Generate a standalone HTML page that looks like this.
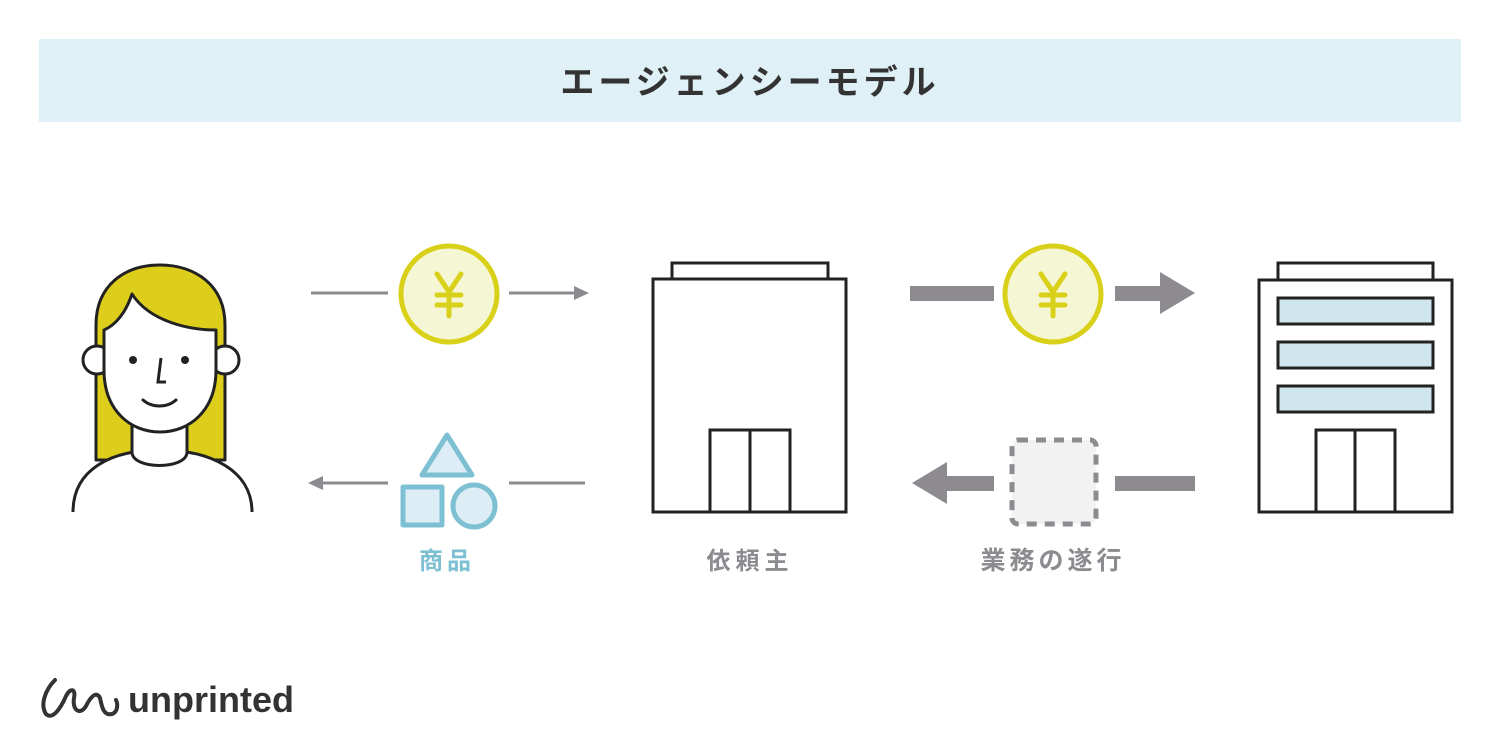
<!DOCTYPE html>
<html><head><meta charset="utf-8"><style>
html,body{margin:0;padding:0;background:#fff;}
svg{display:block;}
text{font-family:"Liberation Sans","Noto Sans CJK JP",sans-serif;}
</style></head><body>
<svg width="1500" height="750" viewBox="0 0 1500 750" xmlns="http://www.w3.org/2000/svg">
<rect x="39" y="39" width="1422" height="83" fill="#dff0f7"/>
<text x="750" y="94" text-anchor="middle" font-size="34" font-weight="bold" fill="#333" letter-spacing="4">エージェンシーモデル</text>

<!-- person -->
<g stroke="#222" stroke-width="3" stroke-linejoin="round">
<path d="M96,460 L96,325 C96,285 125,265 160,265 C195,265 225,285 225,325 L225,460 Z" fill="#dcce1a"/>
<path d="M73,512 C73,470 110,450 160,450 C210,450 252,470 252,512" fill="#fff"/>
<path d="M132,420 L132,452 C132,470 187,470 187,452 L187,420" fill="#fff"/>
<circle cx="97" cy="360" r="14" fill="#fff"/>
<circle cx="225" cy="360" r="14" fill="#fff"/>
<path d="M104,330 L104,370 C104,410 130,432 160,432 C190,432 216,410 216,370 L216,330 C190,330 150,322 132,294 C126,312 116,325 104,330 Z" fill="#fff"/>
</g>
<circle cx="133" cy="360" r="4" fill="#222"/><circle cx="185" cy="360" r="4" fill="#222"/>
<path d="M161,358 L158,382 L166,382" fill="none" stroke="#222" stroke-width="3"/>
<path d="M143,400 C152,408 167,408 176,400" fill="none" stroke="#222" stroke-width="3" stroke-linecap="round"/>

<!-- thin arrows -->
<g stroke="#8d8b8f" stroke-width="3" fill="none">
<line x1="311" y1="293" x2="388" y2="293"/><line x1="509" y1="293" x2="578" y2="293"/>
<line x1="318" y1="483" x2="388" y2="483"/><line x1="509" y1="483" x2="585" y2="483"/>
</g>
<polygon points="574,286 589,293 574,300" fill="#8d8b8f"/>
<polygon points="323,476 308,483 323,490" fill="#8d8b8f"/>

<!-- coins -->
<g>
<circle cx="449" cy="294" r="48" fill="#f5f6d4" stroke="#d9d01a" stroke-width="5"/>
<path d="M437,274 L449,292 L461,274 M449,292 L449,316 M437,295 H461 M437,305 H461" stroke="#d9d01a" stroke-width="5" fill="none" stroke-linecap="round"/>
<circle cx="1053" cy="294" r="48" fill="#f5f6d4" stroke="#d9d01a" stroke-width="5"/>
<path d="M1041,274 L1053,292 L1065,274 M1053,292 L1053,316 M1041,295 H1065 M1041,305 H1065" stroke="#d9d01a" stroke-width="5" fill="none" stroke-linecap="round"/>
</g>

<!-- shapes -->
<g stroke="#7ec0d3" stroke-width="5" fill="#dcedf5" stroke-linejoin="round">
<polygon points="447,435 472,475 422,475"/>
<rect x="403" y="487" width="39" height="38"/>
<circle cx="474" cy="506" r="21"/>
</g>
<text x="447" y="569" text-anchor="middle" font-size="24" font-weight="bold" fill="#7ec0d3" letter-spacing="4">商品</text>

<!-- middle building -->
<g stroke="#222" stroke-width="3" fill="#fff">
<rect x="672" y="263" width="156" height="16"/>
<rect x="653" y="279" width="193" height="233"/>
<rect x="710" y="430" width="80" height="82"/>
<line x1="750" y1="430" x2="750" y2="512"/>
</g>
<text x="750" y="569" text-anchor="middle" font-size="24" font-weight="bold" fill="#8d8b8f" letter-spacing="5">依頼主</text>

<!-- thick arrows -->
<g fill="#8d8b8f">
<rect x="910" y="286" width="84" height="15"/>
<rect x="1115" y="286" width="48" height="15"/>
<polygon points="1160,272 1195,293 1160,314"/>
<rect x="946" y="476" width="48" height="15"/>
<polygon points="947,462 912,483 947,504"/>
<rect x="1115" y="476" width="80" height="15"/>
</g>
<rect x="1012" y="440" width="84" height="84" rx="6" fill="#f2f2f2" stroke="#8d8b8f" stroke-width="5" stroke-dasharray="10,8"/>
<text x="1053" y="569" text-anchor="middle" font-size="25" font-weight="bold" fill="#8d8b8f" letter-spacing="4">業務の遂行</text>

<!-- right building -->
<g stroke="#222" stroke-width="3" fill="#fff">
<rect x="1278" y="263" width="155" height="17"/>
<rect x="1259" y="280" width="193" height="232"/>
<rect x="1278" y="298" width="155" height="26" fill="#cfe6ef"/>
<rect x="1278" y="342" width="155" height="26" fill="#cfe6ef"/>
<rect x="1278" y="386" width="155" height="26" fill="#cfe6ef"/>
<rect x="1316" y="430" width="79" height="82"/>
<line x1="1355" y1="430" x2="1355" y2="512"/>
</g>

<!-- logo -->
<path d="M55,680 C45,690 40,705 46,714 C52,720 60,710 66,696 C70,688 76,688 74,698 C72,710 80,716 86,706 C90,698 96,690 100,698 C102,708 104,716 112,714 C118,712 118,704 116,700" fill="none" stroke="#333" stroke-width="4" stroke-linecap="round"/>
<text x="128" y="712" font-size="36" font-weight="bold" fill="#333">unprinted</text>
</svg>
</body></html>
